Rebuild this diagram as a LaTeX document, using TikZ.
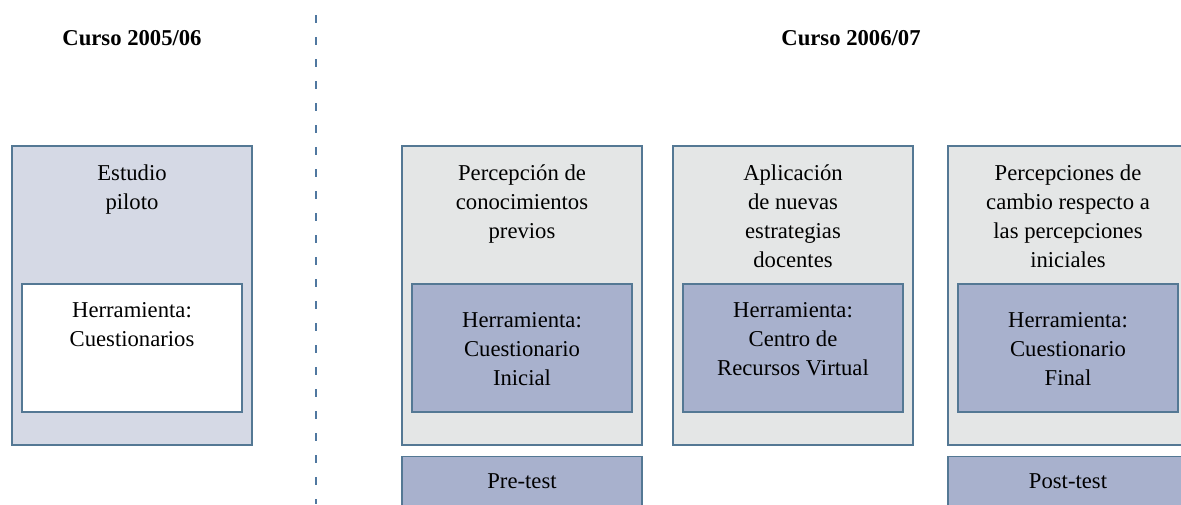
\documentclass[tikz,border=0pt]{standalone}
\usepackage{fontspec}
\setmainfont{Liberation Serif}
\usetikzlibrary{positioning}

\definecolor{pilotofill}{RGB}{213,217,229}
\definecolor{stagefill}{RGB}{228,230,230}
\definecolor{toolfill}{RGB}{168,177,205}
\definecolor{edgeblue}{RGB}{84,120,148}
\definecolor{sepblue}{RGB}{80,120,160}

\tikzset{
  stage/.style={draw=edgeblue, line width=1.1pt, fill=stagefill,
    minimum width=180pt, minimum height=224pt, inner sep=0},
  tool/.style={draw=edgeblue, line width=1.1pt, fill=toolfill,
    minimum width=165pt, minimum height=96pt, inner sep=0},
  testbox/.style={tool, minimum width=180pt, minimum height=60pt},
  txt/.style={inner sep=0, align=center},
  curso/.style={font=\fontsize{17}{21.75}\selectfont\bfseries}
}

\begin{document}
\begin{tikzpicture}[x=0.75pt, y=-0.75pt,
  font=\fontsize{17}{21.75}\selectfont]
    \useasboundingbox (0,0) rectangle (1181,504);
    \clip (0,0) rectangle (1181,504);
    %
    \node[curso] (curso_a) at (132,38) {Curso 2005/06};
    \node[curso] (curso_b) at (851,38) {Curso 2006/07};
    \coordinate (sep_top) at (316,15);
    \coordinate (sep_bottom) at (316,504);
    \draw[sepblue, line width=1.4pt, dash pattern=on 6pt off 10.5pt] (sep_top) -- (sep_bottom);
    %
    \node[stage, fill=pilotofill] (piloto) at (132,295.5) {};
    \node[stage] (previos) at (522,295.5) {};
    \node[stage] (docentes) at (793,295.5) {};
    \node[stage] (cambio) at (1068,295.5) {};
    %
    \node[tool, fill=white, above=24.75pt of piloto.south] (piloto_tool) {};
    \node[tool, above=24.75pt of previos.south] (previos_tool) {};
    \node[tool, above=24.75pt of docentes.south] (docentes_tool) {};
    \node[tool, above=24.75pt of cambio.south] (cambio_tool) {};
    %
    \node[testbox, below=7.5pt of previos] (pretest) {};
    \node[testbox, below=7.5pt of cambio] (posttest) {};
    %
    \node[txt, below=14.5pt of piloto.north] {Estudio\\piloto};
    \node[txt, below=14.5pt of previos.north] {Percepción de\\conocimientos\\previos};
    \node[txt, below=14.5pt of docentes.north] {Aplicación\\de nuevas\\estrategias\\docentes};
    \node[txt, below=14.5pt of cambio.north] {Percepciones de\\cambio respecto a\\las percepciones\\iniciales};
    %
    \node[txt, below=14pt of piloto_tool.north] {Herramienta:\\Cuestionarios};
    \node[txt, below=22pt of previos_tool.north] {Herramienta:\\Cuestionario\\Inicial};
    \node[txt, below=14pt of docentes_tool.north] {Herramienta:\\Centro de\\Recursos Virtual};
    \node[txt, below=22pt of cambio_tool.north] {Herramienta:\\Cuestionario\\Final};
    %
    \node[txt, below=13.5pt of pretest.north] {Pre-test};
    \node[txt, below=13.5pt of posttest.north] {Post-test};
\end{tikzpicture}
\end{document}
